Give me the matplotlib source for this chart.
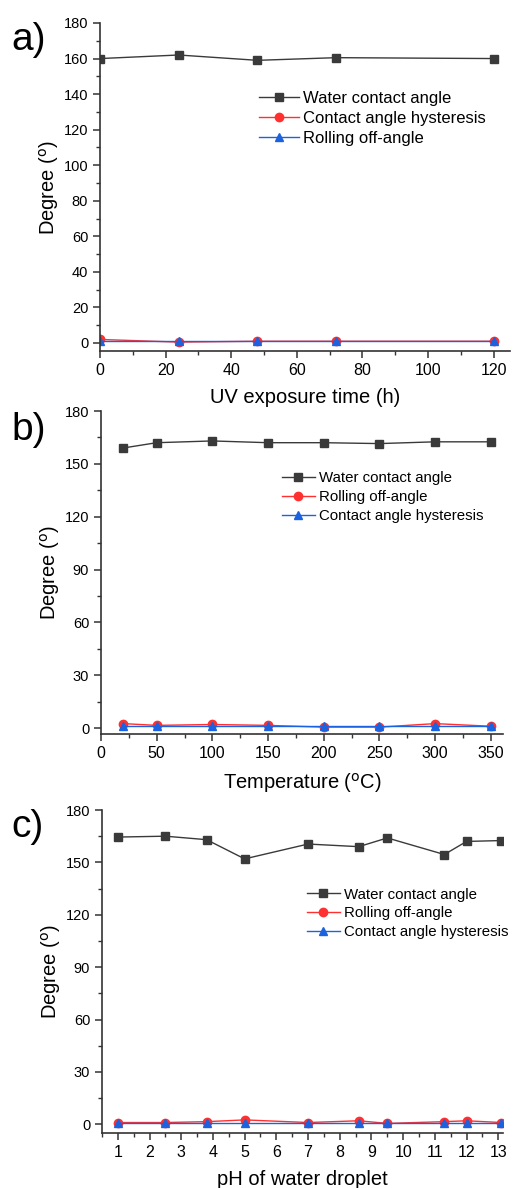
import numpy as np
import matplotlib
matplotlib.use("Agg")
import matplotlib.pyplot as plt
from matplotlib.ticker import MultipleLocator

plt.rcParams['font.family'] = ['Liberation Sans', 'DejaVu Sans']

# a) UV exposure
uv_time = [0, 24, 48, 72, 120]
uv_wca = [160, 162, 159, 160.5, 160]
uv_cah = [2, 0.5, 1, 1, 1]
uv_roa = [1, 1, 1, 1, 1]

# b) temperature
temp = [20, 50, 100, 150, 200, 250, 300, 350]
temp_wca = [159, 162, 163, 162, 162, 161.5, 162.5, 162.5]
temp_roa = [2.5, 1.5, 2, 1.5, 0.5, 0.5, 2.5, 1]
temp_cah = [1, 1, 1, 1, 1, 1, 1, 1]

# c) pH
ph = [1, 2.5, 3.8, 5, 7, 8.6, 9.5, 11.3, 12, 13.1]
ph_wca = [164.5, 165, 163, 152, 160.5, 159, 164, 154.5, 162, 162.5]
ph_roa = [1, 1, 1.5, 2.5, 1, 2, 0.5, 1.5, 2, 1]
ph_cah = [1, 1, 1, 1, 1, 1, 1, 1, 1, 1]

W, H = 513, 1188
fig = plt.figure(figsize=(W / 100, H / 100), dpi=100)

c_blk = '#3a3a3a'
c_red = '#ff3030'
c_blu = '#1a62e0'


def make_ax(l, r, t, b):
    return fig.add_axes([l / W, 1 - b / H, (r - l) / W, (b - t) / H])


def style(ax, xlab):
    for s in ['top', 'right']:
        ax.spines[s].set_visible(False)
    for s in ['left', 'bottom']:
        ax.spines[s].set_linewidth(1.2)
        ax.spines[s].set_color('#333333')
    ax.tick_params(which='major', direction='out', length=5, width=1.1, color='#333333')
    ax.tick_params(which='minor', direction='out', length=3, width=1.0, color='#333333')
    ax.tick_params(axis='y', labelsize=10.5)
    ax.tick_params(axis='x', labelsize=11.5)
    ax.set_ylabel('Degree ($^{\\rm o}$)', fontsize=14.5, labelpad=2)
    ax.set_xlabel(xlab, fontsize=14.5, labelpad=7)


def draw(ax, x, series, bbox, fs, hl):
    for y, c, m, lab in series:
        ax.plot(x, y, color=c, marker=m, markersize=6, lw=1.0, label=lab)
    ax.legend(loc='upper left', bbox_to_anchor=bbox, frameon=False, fontsize=fs,
              handlelength=hl, handletextpad=0.25, labelspacing=0.32, borderpad=0,
              borderaxespad=0)


# panel a
ax1 = make_ax(100, 510, 23, 351)
draw(ax1, uv_time, [(uv_wca, c_blk, 's', 'Water contact angle'),
                    (uv_cah, c_red, 'o', 'Contact angle hysteresis'),
                    (uv_roa, c_blu, '^', 'Rolling off-angle')], (0.388, 0.794), 12, 2.4)
ax1.set_xlim(0, 125)
ax1.set_ylim(-4.5, 180)
ax1.xaxis.set_major_locator(MultipleLocator(20))
ax1.xaxis.set_minor_locator(MultipleLocator(10))
ax1.yaxis.set_major_locator(MultipleLocator(20))
ax1.yaxis.set_minor_locator(MultipleLocator(10))
style(ax1, 'UV exposure time (h)')
fig.text(11 / W, 1 - 40 / H, 'a)', fontsize=28, va='center')

# panel b
ax2 = make_ax(101, 503, 411, 734)
draw(ax2, temp, [(temp_wca, c_blk, 's', 'Water contact angle'),
                 (temp_roa, c_red, 'o', 'Rolling off-angle'),
                 (temp_cah, c_blu, '^', 'Contact angle hysteresis')], (0.45, 0.813), 10.8, 2.2)
ax2.set_xlim(0, 361)
ax2.set_ylim(-3.4, 180)
ax2.xaxis.set_major_locator(MultipleLocator(50))
ax2.xaxis.set_minor_locator(MultipleLocator(25))
ax2.yaxis.set_major_locator(MultipleLocator(30))
ax2.yaxis.set_minor_locator(MultipleLocator(15))
style(ax2, 'Temperature ($^{\\rm o}$C)')
fig.text(11 / W, 1 - 430 / H, 'b)', fontsize=28, va='center')

# panel c
ax3 = make_ax(102, 503, 810, 1133)
draw(ax3, ph, [(ph_wca, c_blk, 's', 'Water contact angle'),
               (ph_roa, c_red, 'o', 'Rolling off-angle'),
               (ph_cah, c_blu, '^', 'Contact angle hysteresis')], (0.511, 0.760), 10.8, 2.2)
ax3.set_xlim(0.5, 13.15)
ax3.set_ylim(-5, 180)
ax3.xaxis.set_major_locator(MultipleLocator(1))
ax3.xaxis.set_minor_locator(MultipleLocator(0.5))
ax3.yaxis.set_major_locator(MultipleLocator(30))
ax3.yaxis.set_minor_locator(MultipleLocator(15))
style(ax3, 'pH of water droplet')
fig.text(11 / W, 1 - 827 / H, 'c)', fontsize=28, va='center')

fig.savefig('out.png', dpi=100)
